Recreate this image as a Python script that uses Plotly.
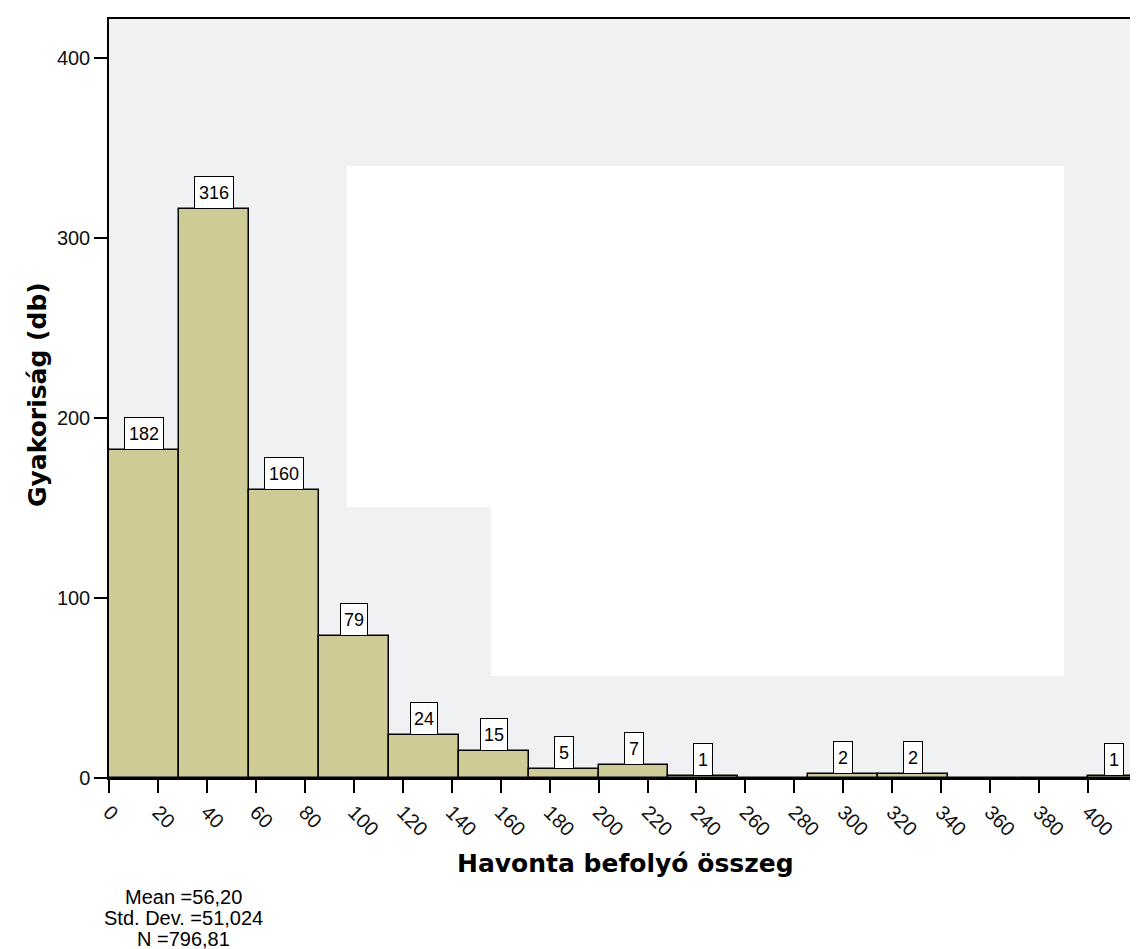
import plotly.graph_objects as go

# histogram bins (lower edge) and counts
bin_lo = [0, 28.57, 57.14, 85.71, 114.29, 142.86, 171.43, 200, 228.57, 257.14,
          285.71, 314.29, 342.86, 371.43, 400, 428.57]
counts = [182, 316, 160, 79, 24, 15, 5, 7, 1, 0, 2, 2, 0, 0, 1, 1]
BIN_W = 28.57

x_ticks = list(range(0, 420, 20)) + [420]
x_ticktext = [str(v) for v in range(0, 420, 20)] + ["..."]
y_ticks = [0, 100, 200, 300, 400]

stats = ["Mean =56,20", "Std. Dev. =51,024", "N =796,81"]
x_title = "Havonta befolyó összeg"
y_title = "Gyakoriság (db)"

XMAX, YMAX = 421.2, 421.7
W, H = 1138, 949
L, R, T, B = 101, 6, 11, 179
PW, PH = W - L - R, H - T - B

BAR = "#cfcb97"
BG = "#f0f1f2"
FONT = "Liberation Sans, Arial, sans-serif"
BOLD = "DejaVu Sans, Verdana, sans-serif"


def px_x(p):   # pixel -> paper x
    return (p - L) / PW


def px_y(p):   # pixel -> paper y
    return (H - B - p) / PH


centers = [lo + BIN_W / 2 for lo in bin_lo]

fig = go.Figure(go.Bar(
    x=centers, y=counts, width=[BIN_W] * len(counts),
    marker=dict(color=BAR, line=dict(color="black", width=1.5)),
    hoverinfo="x+y", showlegend=False))

# count labels in boxes on top of each bar (centred on the visible part)
box_w = {1: 16, 2: 24, 3: 36}
for lo, c in zip(bin_lo, counts):
    if c == 0:
        continue
    hi = lo + BIN_W
    common = dict(text=str(c), showarrow=False, font=dict(family=FONT, size=18, color="black"),
                  bgcolor="white", bordercolor="black", borderwidth=1, borderpad=1,
                  width=box_w[len(str(c))], height=29, yanchor="bottom", yref="y", y=c)
    if lo >= XMAX:
        fig.add_annotation(xref="paper", x=1.0, xanchor="center", **common)
    else:
        xc = (max(lo, 0) + min(hi, XMAX)) / 2
        fig.add_annotation(xref="x", x=xc, xanchor="center", **common)

# white blanked-out region inside the plot
for x0, x1, y0, y1 in [(97.2, 390.2, 150.6, 340.0), (156.1, 390.2, 56.7, 150.6)]:
    fig.add_shape(type="rect", xref="x", yref="y", x0=x0, x1=x1, y0=y0, y1=y1,
                  fillcolor="white", line=dict(width=0), layer="below")

# axis titles
fig.add_annotation(xref="paper", yref="paper", x=px_x(617), y=px_y(855), text=f"<b>{x_title}</b>",
                   showarrow=False, font=dict(family=BOLD, size=25, color="black"),
                   xanchor="center", yanchor="middle")
fig.add_annotation(xref="paper", yref="paper", x=px_x(29), y=px_y(387), text=f"<b>{y_title}</b>",
                   showarrow=False, textangle=-90, font=dict(family=BOLD, size=25, color="black"),
                   xanchor="center", yanchor="middle")

# stats block
for i, s in enumerate(stats):
    fig.add_annotation(xref="paper", yref="paper", x=px_x(175), y=px_y(889 + 21 * i), text=s,
                       showarrow=False, font=dict(family=FONT, size=20, color="black"),
                       xanchor="center", yanchor="middle")

axis_common = dict(showline=True, mirror=True, linecolor="black", linewidth=1.5,
                   ticks="outside", tickcolor="black", tickwidth=1.5, ticklen=13,
                   showgrid=False, zeroline=False,
                   tickfont=dict(family=FONT, size=20, color="#111"))

fig.update_layout(
    width=W, height=H, margin=dict(l=L, r=R, t=T, b=B, autoexpand=False),
    paper_bgcolor="white", plot_bgcolor=BG, bargap=0,
    xaxis=dict(range=[0, XMAX], tickvals=x_ticks, ticktext=x_ticktext, tickangle=45,
               ticklabeloverflow="allow", **axis_common),
    yaxis=dict(range=[0, YMAX], tickvals=y_ticks, **axis_common),
)

fig.write_html("out.html")
